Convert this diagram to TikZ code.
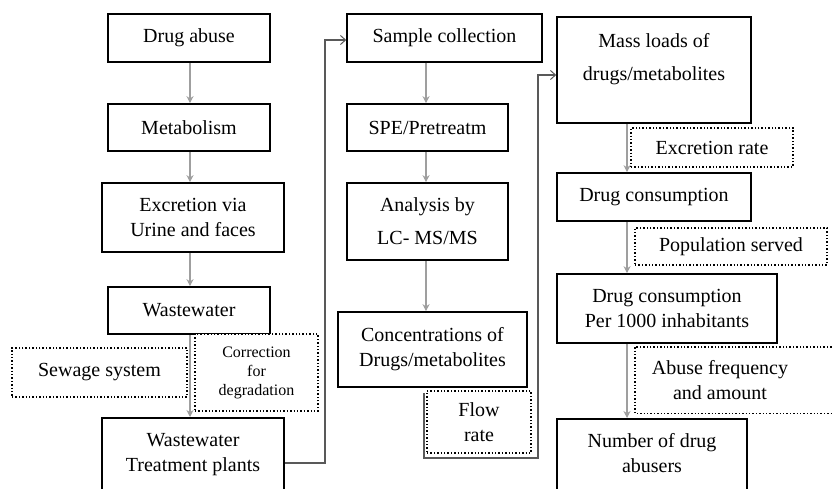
\documentclass[tikz,border=0pt]{standalone}
\usepackage{fontspec}
\setmainfont{Liberation Serif}
\usetikzlibrary{arrows.meta}
\tikzset{
  box/.style={draw=black, line width=1.6pt, fill=white, align=center, inner sep=0pt,
     font=\fontsize{20}{25}\selectfont},
  dbox/.style={draw=black, line width=1.4pt, dotted, fill=white, align=center, inner sep=0pt,
     font=\fontsize{20}{25}\selectfont},
  flow/.style={draw=gray!75, line width=2pt, -{Stealth[length=7pt,width=7pt,fill=gray!40!black]}},
  link/.style={draw=gray!70!black, line width=1.4pt, -{Straight Barb[length=5pt,width=9pt,line width=1pt]}},
}
\begin{document}
\begin{tikzpicture}[x=1pt,y=-1pt]
\useasboundingbox (0,0) rectangle (834,489);
\clip (0,0) rectangle (834,489);
% column 1
\node[box, minimum width=162pt, minimum height=48pt] (da) at (189,38) {Drug abuse};
\node[box, minimum width=162pt, minimum height=47pt] (met) at (189,127.5) {Metabolism};
\node[box, minimum width=182pt, minimum height=69pt] (exc) at (193,217.5) {Excretion via\\Urine and faces};
\node[box, minimum width=162pt, minimum height=47pt] (ww) at (189,310.5) {Wastewater};
\node[box, minimum width=182pt, minimum height=90pt, anchor=north] (wtp) at (193,417) {Wastewater\\Treatment plants\\[-4pt]};
\draw[flow] (da.south -| 190,0) -- (met.north -| 190,0);
\draw[flow] (met.south -| 190,0) -- (exc.north -| 190,0);
\draw[flow] (exc.south -| 190,0) -- (ww.north -| 190,0);
\draw[flow] (ww.south -| 190,0) -- (wtp.north -| 190,0);
\node[dbox, minimum width=175pt, minimum height=49pt] (sew) at (99.5,372.5) {Sewage system};
\node[dbox, minimum width=123pt, minimum height=77pt, font=\fontsize{16}{19}\selectfont] (cor) at (256.5,372.5) {Correction\\for\\degradation};
% column 2
\node[box, minimum width=195pt, minimum height=48pt] (sc) at (444.5,38) {Sample collection};
\node[box, minimum width=161pt, minimum height=47pt] (spe) at (427.5,127.5) {SPE/Pretreatm};
\node[box, minimum width=161pt, minimum height=77pt] (ana) at (427.5,221.5) {Analysis by\\[8pt]LC- MS/MS};
\node[box, minimum width=189pt, minimum height=75pt] (conc) at (432.5,349.5) {Concentrations of\\Drugs/metabolites};
\draw[flow] (sc.south -| 426,0) -- (spe.north -| 426,0);
\draw[flow] (spe.south -| 426,0) -- (ana.north -| 426,0);
\draw[flow] (ana.south -| 426,0) -- (conc.north -| 426,0);
\node[dbox, minimum width=104pt, minimum height=62pt] (fr) at (479,422) {Flow\\rate};
% column 3
\node[box, minimum width=194pt, minimum height=106pt] (ml) at (654,70) {Mass loads of\\[8pt]drugs/metabolites\\[2pt]};
\node[box, minimum width=194pt, minimum height=48pt] (dc) at (654,197) {Drug consumption};
\node[box, minimum width=220pt, minimum height=69pt] (dcp) at (667,308.5) {Drug consumption\\Per 1000 inhabitants};
\node[box, minimum width=190pt, minimum height=90pt, anchor=north] (nda) at (652,418) {Number of drug\\abusers\\[-3pt]};
\draw[flow] (ml.south -| 627,0) -- (dc.north -| 627,0);
\draw[flow] (dc.south -| 627,0) -- (dcp.north -| 627,0);
\draw[flow] (dcp.south -| 627,0) -- (nda.north -| 627,0);
\node[dbox, minimum width=162pt, minimum height=39pt] (er) at (712,147.5) {Excretion rate};
\node[dbox, minimum width=192pt, minimum height=37pt] (ps) at (731,246.5) {Population served};
\node[align=center, inner sep=0pt, font=\fontsize{20}{25}\selectfont, minimum width=170pt, minimum height=66pt] (af) at (720,380) {Abuse frequency\\and amount};
\draw[line width=1.4pt, dotted] ([xshift=40pt]af.north east) -- (af.north west) -- (af.south west) -- ([xshift=40pt]af.south east);
% connectors
\coordinate (c1) at (325,463);
\coordinate (c2) at (325,40);
\draw[link] (wtp.east |- c1) -- (c1) -- (c2) -- (sc.west |- c2);
\coordinate (s2) at (424,393);
\coordinate (c3) at (424,458);
\coordinate (c4) at (538,458);
\coordinate (c5) at (538,75);
\draw[link] (s2) -- (c3) -- (c4) -- (c5) -- (ml.west |- c5);
\end{tikzpicture}
\end{document}
